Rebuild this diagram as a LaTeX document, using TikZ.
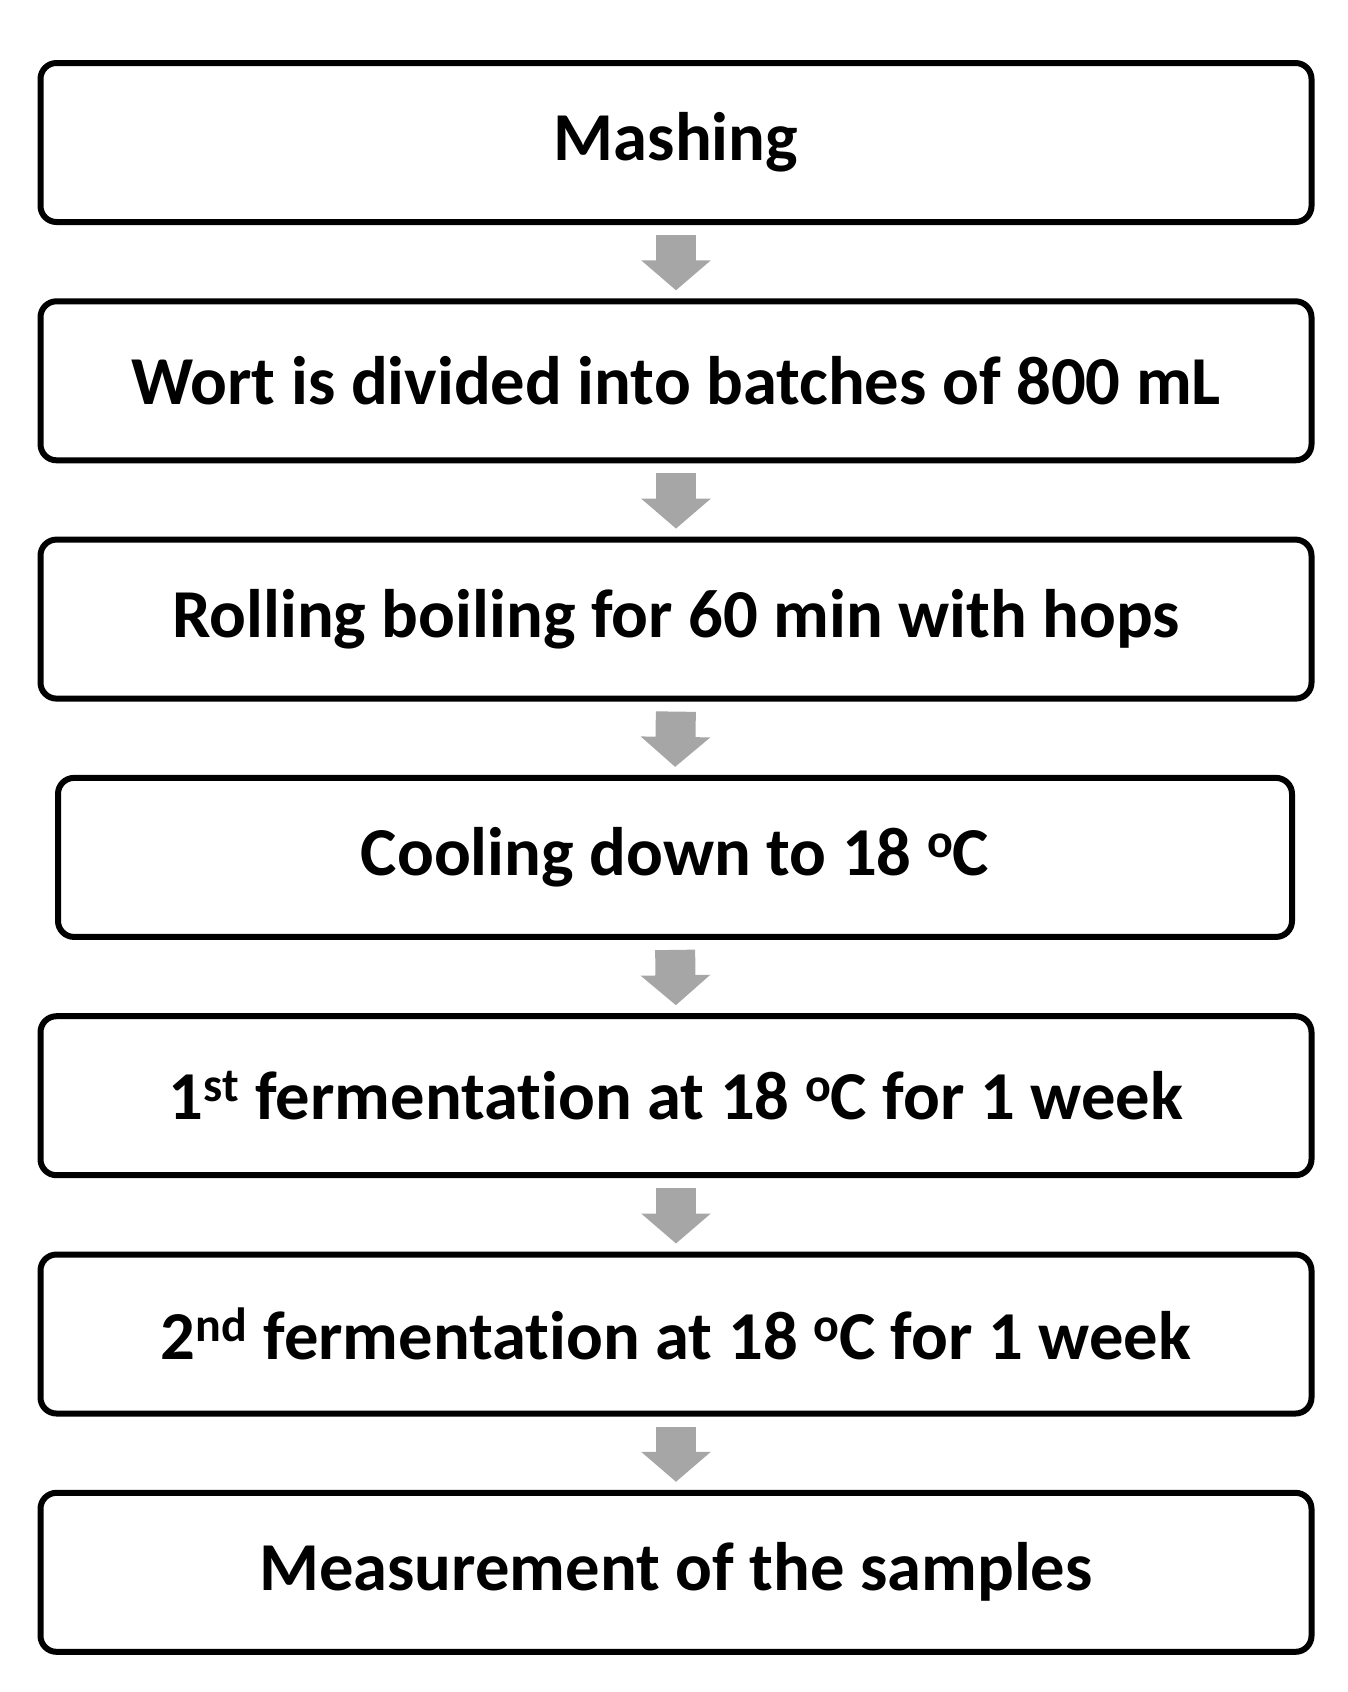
\documentclass[tikz,border=0pt]{standalone}
\usepackage{fontspec}
\setmainfont[Ligatures=NoCommon]{Carlito}
\usetikzlibrary{arrows.meta}
\definecolor{arrowgray}{HTML}{A6A6A6}

\begin{document}
\begin{tikzpicture}[x=0.5pt, y=-0.5pt,
  stepbox/.style={draw, line width=3pt, rounded corners=8pt, minimum width=635.5pt,
    minimum height=79.5pt, inner sep=0pt, font=\fontsize{34.3}{41}\selectfont\bfseries},
  flowarrow/.style={arrowgray, line width=20pt, shorten <=5pt, shorten >=4pt,
    -{Triangle[width=34pt,length=15pt]}}]

\useasboundingbox (0,0) rectangle (1348,1692);

\node [stepbox] (mash)  at (676, 142.5) {Mashing};
\node [stepbox] (wort)  at (676, 380.8) {Wort is divided into batches of 800 mL};
\node [stepbox] (boil)  at (676, 619.1) {Rolling boiling for 60 min with hops};
\node [stepbox, minimum width=617pt] (cool) at (675, 857.4) {Cooling down to 18 \textsuperscript{o}\kern-0.5pt C};
\node [stepbox] (fermA) at (676, 1095.7) {1\textsuperscript{st} fermentation at 18 \textsuperscript{o}\kern-0.5pt C for 1 week};
\node [stepbox] (fermB) at (676, 1334) {2\textsuperscript{nd} fermentation at 18 \textsuperscript{o}\kern-0.5pt C for 1 week};
\node [stepbox] (meas)  at (676, 1572.3) {Measurement of the samples};

\draw [flowarrow] (mash.south)  -- (wort.north);
\draw [flowarrow] (wort.south)  -- (boil.north);
\draw [flowarrow] (boil.south)  -- (cool.north);
\draw [flowarrow] (cool.south)  -- (fermA.north);
\draw [flowarrow] (fermA.south) -- (fermB.north);
\draw [flowarrow] (fermB.south) -- (meas.north);

\end{tikzpicture}
\end{document}
